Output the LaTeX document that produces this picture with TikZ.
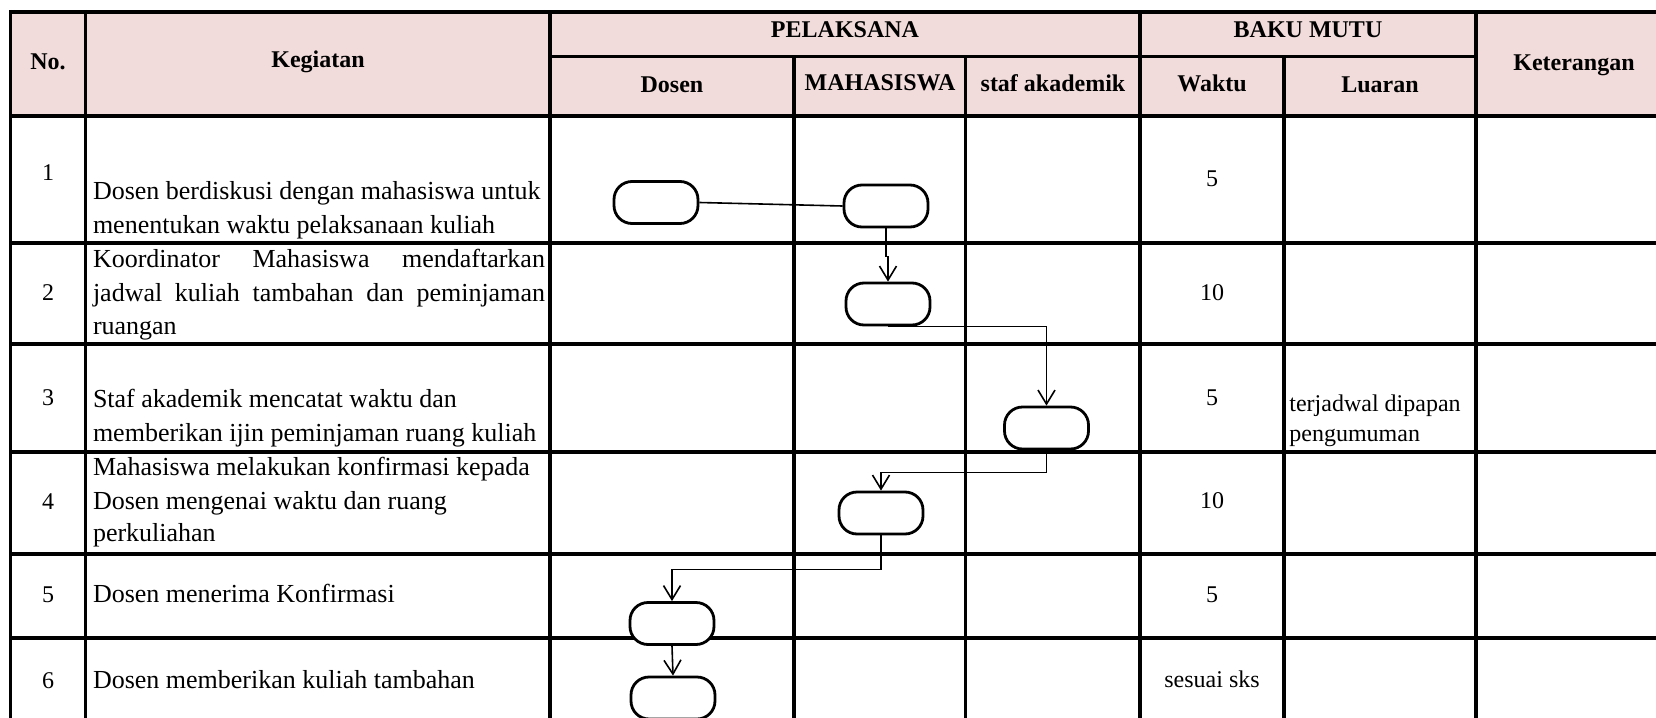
\documentclass[tikz,border=0pt]{standalone}
\usepackage{fontspec}
\setmainfont{Liberation Serif}
\usetikzlibrary{arrows.meta}
\definecolor{hdr}{HTML}{F2DCDB}
\begin{document}
\begin{tikzpicture}[x=0.5pt,y=-0.5pt,
  grid/.style={line width=1.6pt},
  act/.style={draw, line width=1.4pt, rounded corners=9pt, fill=white, minimum width=42pt, minimum height=21pt, inner sep=0pt},
  conn/.style={line width=0.8pt},
  arr/.style={conn, -{Straight Barb[length=7pt,width=8.5pt]}},
  hd/.style={font=\bfseries\fontsize{12pt}{14pt}\selectfont, inner sep=0pt, anchor=mid},
  kg/.style={font=\fontsize{13pt}{16pt}\selectfont, inner sep=0pt, anchor=mid west},
  sm/.style={font=\fontsize{12pt}{14pt}\selectfont, inner sep=0pt, anchor=mid},
  lw/.style={font=\fontsize{12pt}{14pt}\selectfont, inner sep=0pt, anchor=mid west},
]
\useasboundingbox (0,0) rectangle (1656,718);
\clip (0,0) rectangle (1656,718);
\fill[white] (0,0) rectangle (1656,718);
\fill[hdr] (10.6,12) rectangle (1690,116);
% horizontal lines
\draw[grid] (10.6,740) -- (10.6,12) -- (1690,12);
\draw[grid] (550,56.5) -- (1476,56.5);
\foreach \yy in {116,243,344,452,554,638} \draw[grid] (10.6,\yy) -- (1690,\yy);
% vertical lines
\foreach \xx in {85.8,550,1140,1476} \draw[grid] (\xx,12) -- (\xx,740);
\foreach \xx in {794,965.5,1284} \draw[grid] (\xx,56.5) -- (\xx,740);
% header
\node[hd] (hno) at (48,65) {No.};
\node[hd] (hkeg) at (318,63) {Kegiatan};
\node[hd] (hpel) at (845,33) {PELAKSANA};
\node[hd] (hbaku) at (1308,33) {BAKU MUTU};
\node[hd] (hdos) at (672,88) {Dosen};
\node[hd] (hmah) at (880,86) {MAHASISWA};
\node[hd] (hstaf) at (1053,87) {staf akademik};
\node[hd] (hwak) at (1212,87) {Waktu};
\node[hd] (hlua) at (1380,88) {Luaran};
\node[hd] (hket) at (1574,66) {Keterangan};
% numbers
\node[sm] (n1) at (48,176) {1};
\node[sm] (n2) at (48,296) {2};
\node[sm] (n3) at (48,401) {3};
\node[sm] (n4) at (48,505) {4};
\node[sm] (n5) at (48,598) {5};
\node[sm] (n6) at (48,684) {6};
% kegiatan
\node[kg] (k1a) at (92.6,195) {Dosen berdiskusi dengan mahasiswa untuk};
\node[kg] (k1b) at (92.6,229) {menentukan waktu pelaksanaan kuliah};
\node[kg] (k2a) at (92.6,263) {\makebox[226pt][s]{Koordinator Mahasiswa mendaftarkan}};
\node[kg] (k2b) at (92.6,297) {\makebox[226pt][s]{jadwal kuliah tambahan dan peminjaman}};
\node[kg] (k2c) at (92.6,330) {ruangan};
\node[kg] (k3a) at (92.6,403) {Staf akademik mencatat waktu dan};
\node[kg] (k3b) at (92.6,437) {memberikan ijin peminjaman ruang kuliah};
\node[kg] (k4a) at (92.6,471) {Mahasiswa melakukan konfirmasi kepada};
\node[kg] (k4b) at (92.6,505) {Dosen mengenai waktu dan ruang};
\node[kg] (k4c) at (92.6,537) {perkuliahan};
\node[kg] (k5) at (92.6,598) {Dosen menerima Konfirmasi};
\node[kg] (k6) at (92.6,684) {Dosen memberikan kuliah tambahan};
% waktu
\node[sm] (w1) at (1212,182) {5};
\node[sm] (w2) at (1212,296) {10};
\node[sm] (w3) at (1212,401) {5};
\node[sm] (w4) at (1212,504) {10};
\node[sm] (w5) at (1212,598) {5};
\node[sm] (w6) at (1212,683) {sesuai sks};
% luaran
\node[lw] (l3a) at (1289,407) {terjadwal dipapan};
\node[lw] (l3b) at (1289,437) {pengumuman};
% activities
\node[act] (d1) at (656,202.5) {};
\node[act] (m1) at (886,206) {};
\node[act] (m2) at (888,304) {};
\node[act] (s3) at (1046.5,428) {};
\node[act] (m4) at (881,513) {};
\node[act] (d5) at (672,623.5) {};
\node[act] (d6) at (673,698) {};
% connectors
\draw[conn] (d1.east) -- (m1.west);
\draw[arr] (m1.south) -- ++(0,28) -| (m2.north);
\draw[arr] (m2.south) -| (s3.north);
\draw[arr] (s3.south) -- ++(0,22) -| (m4.north);
\draw[arr] (m4.south) -- ++(0,34) -| (d5.north);
\draw[arr] (d5.south) -- (d6.north);
\end{tikzpicture}
\end{document}
